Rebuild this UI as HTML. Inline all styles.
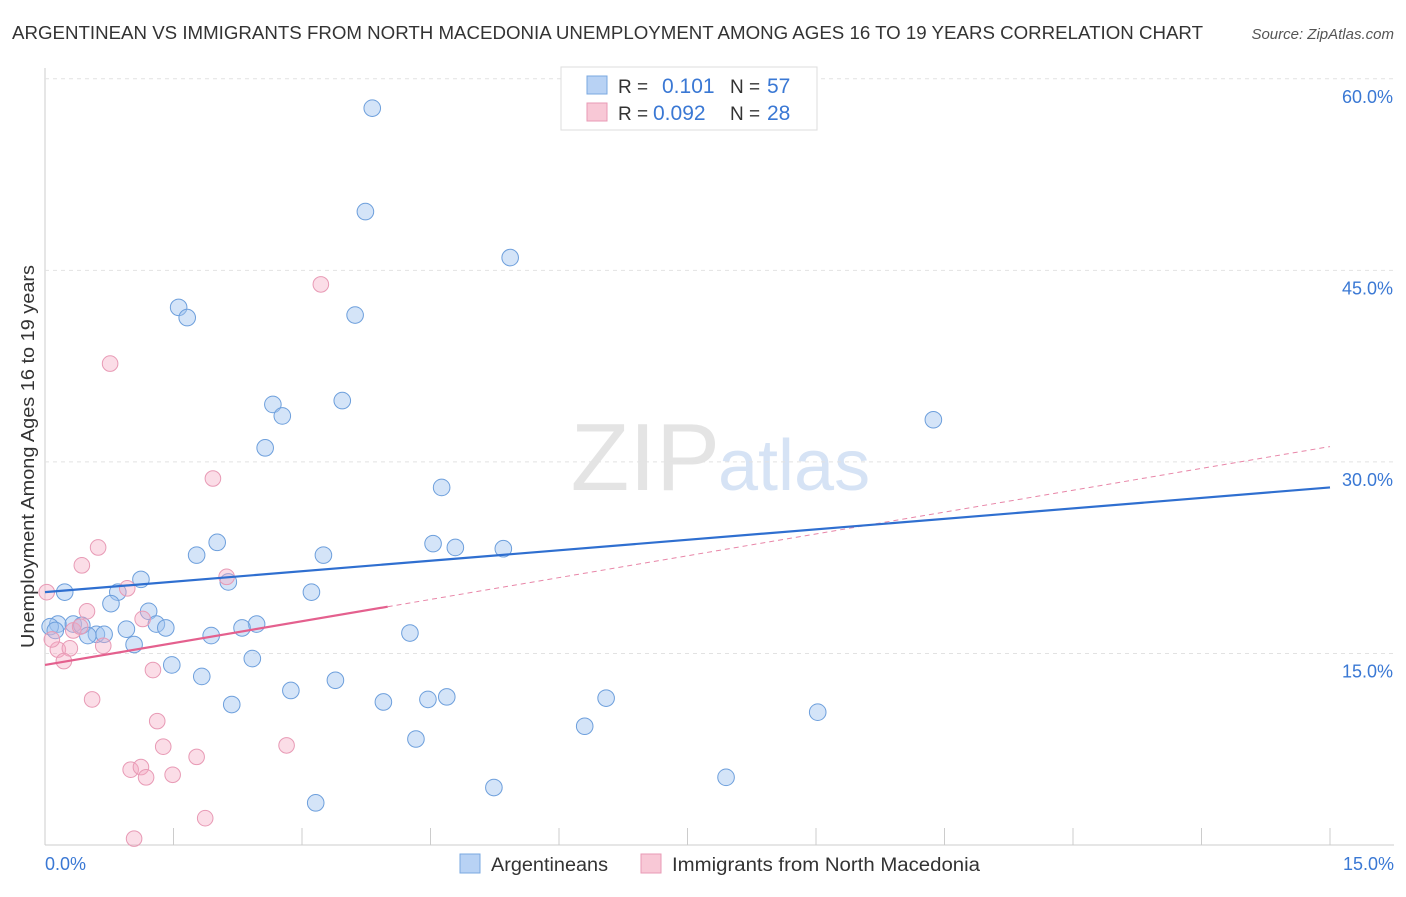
<!DOCTYPE html>
<html><head><meta charset="utf-8"><style>
body{margin:0;background:#fff;font-family:"Liberation Sans",sans-serif;}
svg text{font-family:"Liberation Sans",sans-serif;}
</style></head><body>
<svg id="c" width="1406" height="892" xmlns="http://www.w3.org/2000/svg">
<text x="12" y="39" font-size="18" fill="#333" textLength="1191" lengthAdjust="spacingAndGlyphs">ARGENTINEAN VS IMMIGRANTS FROM NORTH MACEDONIA UNEMPLOYMENT AMONG AGES 16 TO 19 YEARS CORRELATION CHART</text>
<text x="1394" y="39" font-size="15" fill="#555" font-style="italic" text-anchor="end">Source: ZipAtlas.com</text>
<text x="720" y="490" font-size="96" fill="#e4e4e4" text-anchor="end" font-family="Liberation Serif">ZIP</text>
<text x="718" y="490" font-size="72" fill="#d6e3f5">atlas</text>
<text transform="translate(34,648) rotate(-90)" font-size="18" fill="#333" textLength="383" lengthAdjust="spacingAndGlyphs">Unemployment Among Ages 16 to 19 years</text>
<g id="grid"></g><g id="marks"></g>
<g>
<rect x="561" y="67" width="256" height="63" fill="#fff" stroke="#ddd"/>
<rect x="587" y="76" width="20" height="18" fill="#b8d2f4" stroke="#7aa8e0"/>
<rect x="587" y="103" width="20" height="18" fill="#f8c8d6" stroke="#e89ab5"/>
<text x="618" y="93" font-size="19" fill="#333">R = </text><text x="662" y="93" font-size="21" fill="#3a78d4">0.101</text>
<text x="730" y="93" font-size="19" fill="#333">N = </text><text x="767" y="93" font-size="21" fill="#3a78d4">57</text>
<text x="618" y="120" font-size="19" fill="#333">R = </text><text x="653" y="120" font-size="21" fill="#3a78d4">0.092</text>
<text x="730" y="120" font-size="19" fill="#333">N = </text><text x="767" y="120" font-size="21" fill="#3a78d4">28</text>
</g>
<g>
<rect x="460" y="854" width="20" height="19" fill="#b8d2f4" stroke="#7aa8e0"/>
<text x="491" y="871" font-size="19" fill="#333" textLength="117" lengthAdjust="spacingAndGlyphs">Argentineans</text>
<rect x="641" y="854" width="20" height="19" fill="#f8c8d6" stroke="#e89ab5"/>
<text x="672" y="871" font-size="19" fill="#333" textLength="308" lengthAdjust="spacingAndGlyphs">Immigrants from North Macedonia</text>
</g>
<text x="45" y="870" font-size="18" fill="#3a78d4">0.0%</text>
<text x="1394" y="870" font-size="18" fill="#3a78d4" text-anchor="end">15.0%</text>
</svg>
<script>
const yTicks=[15,30,45,60];
const yTickLabels=["15.0%","30.0%","45.0%","60.0%"];
const xTicks=[0,1.5,3,4.5,6,7.5,9,10.5,12,13.5,15];
const blueX=[3.82,3.74,5.43,1.56,1.66,3.62,3.47,2.66,2.77,2.57,10.37,4.63,2.01,1.77,4.53,4.79,5.35,3.25,1.12,2.14,3.11,0.23,0.85,0.77,1.21,2.47,2.30,1.30,1.41,0.95,1.94,4.26,0.33,0.15,0.60,0.69,1.04,2.42,1.48,1.83,2.87,3.39,2.18,3.95,4.47,4.69,6.55,6.30,9.02,4.33,7.95,5.24,3.16,0.06,0.12,0.43,0.50];
const blueY=[57.7,49.6,46.0,42.1,41.3,41.5,34.8,34.5,33.6,31.1,33.3,28.0,23.7,22.7,23.6,23.3,23.2,22.7,20.8,20.6,19.8,19.8,19.8,18.9,18.3,17.3,17.0,17.3,17.0,16.9,16.4,16.6,17.3,17.3,16.5,16.5,15.7,14.6,14.1,13.2,12.1,12.9,11.0,11.2,11.4,11.6,11.5,9.3,10.4,8.3,5.3,4.5,3.3,17.1,16.8,17.2,16.4];
const pinkX=[3.22,0.76,1.96,0.62,0.43,2.12,0.96,0.02,0.49,1.14,0.33,0.41,0.15,0.29,0.68,0.22,1.26,0.55,1.31,1.38,2.82,1.77,1.00,1.12,1.18,1.49,1.87,1.04,0.08];
const pinkY=[43.9,37.7,28.7,23.3,21.9,21.0,20.1,19.8,18.3,17.7,16.8,17.1,15.3,15.4,15.6,14.4,13.7,11.4,9.7,7.7,7.8,6.9,5.9,6.1,5.3,5.5,2.1,0.5,16.1];
const blueTrend=[19.8,28.0];
const pinkTrend=[14.1,31.2];
const pinkSolidEnd=4.0;
const NS="http://www.w3.org/2000/svg";
const X=v=>45+v/15*1285, Y=v=>845-v*12.77;
const grid=document.getElementById('grid'), marks=document.getElementById('marks');
function mk(tag,attrs,parent){const e=document.createElementNS(NS,tag);for(const k in attrs)e.setAttribute(k,attrs[k]);parent.appendChild(e);return e;}
mk('line',{x1:45,y1:68,x2:45,y2:845,stroke:'#ccc'},grid);
mk('line',{x1:45,y1:845,x2:1394,y2:845,stroke:'#ccc'},grid);
yTicks.forEach((t,i)=>{
 const l=mk('line',{x1:45,y1:Y(t),x2:1394,y2:Y(t),stroke:'#e2e2e2','stroke-dasharray':'4,4'},grid);
 
 
 const tx=mk('text',{x:1393,y:Y(t)+24,'font-size':18,fill:'#3a78d4','text-anchor':'end'},grid);
 tx.textContent=yTickLabels[i];
 
 
});
xTicks.forEach(t=>{
 const l=mk('line',{x1:X(t),y1:828,x2:X(t),y2:845,stroke:'#ccc'},grid);
 
 
});
blueX.forEach((x,i)=>{
 const c=mk('circle',{cx:X(x),cy:Y(blueY[i]),r:8.3,fill:'rgba(160,196,240,0.45)',stroke:'#6d9fdc','stroke-width':1},marks);
 
 
});
pinkX.forEach((x,i)=>{
 const c=mk('circle',{cx:X(x),cy:Y(pinkY[i]),r:7.8,fill:'rgba(245,170,195,0.4)',stroke:'#e89ab5','stroke-width':1},marks);
 
 
});
const pm=pinkTrend[0]+(pinkTrend[1]-pinkTrend[0])*pinkSolidEnd/15;
const pd=mk('line',{x1:X(pinkSolidEnd),y1:Y(pm),x2:X(15),y2:Y(pinkTrend[1]),stroke:'#e886a8','stroke-width':1,'stroke-dasharray':'5,4'},marks);


const bt=mk('line',{x1:X(0),y1:Y(blueTrend[0]),x2:X(15),y2:Y(blueTrend[1]),stroke:'#2f6fd0','stroke-width':2.2},marks);


const ps=mk('line',{x1:X(0),y1:Y(pinkTrend[0]),x2:X(pinkSolidEnd),y2:Y(pm),stroke:'#e4608e','stroke-width':2.2},marks);


</script>
</body></html>
